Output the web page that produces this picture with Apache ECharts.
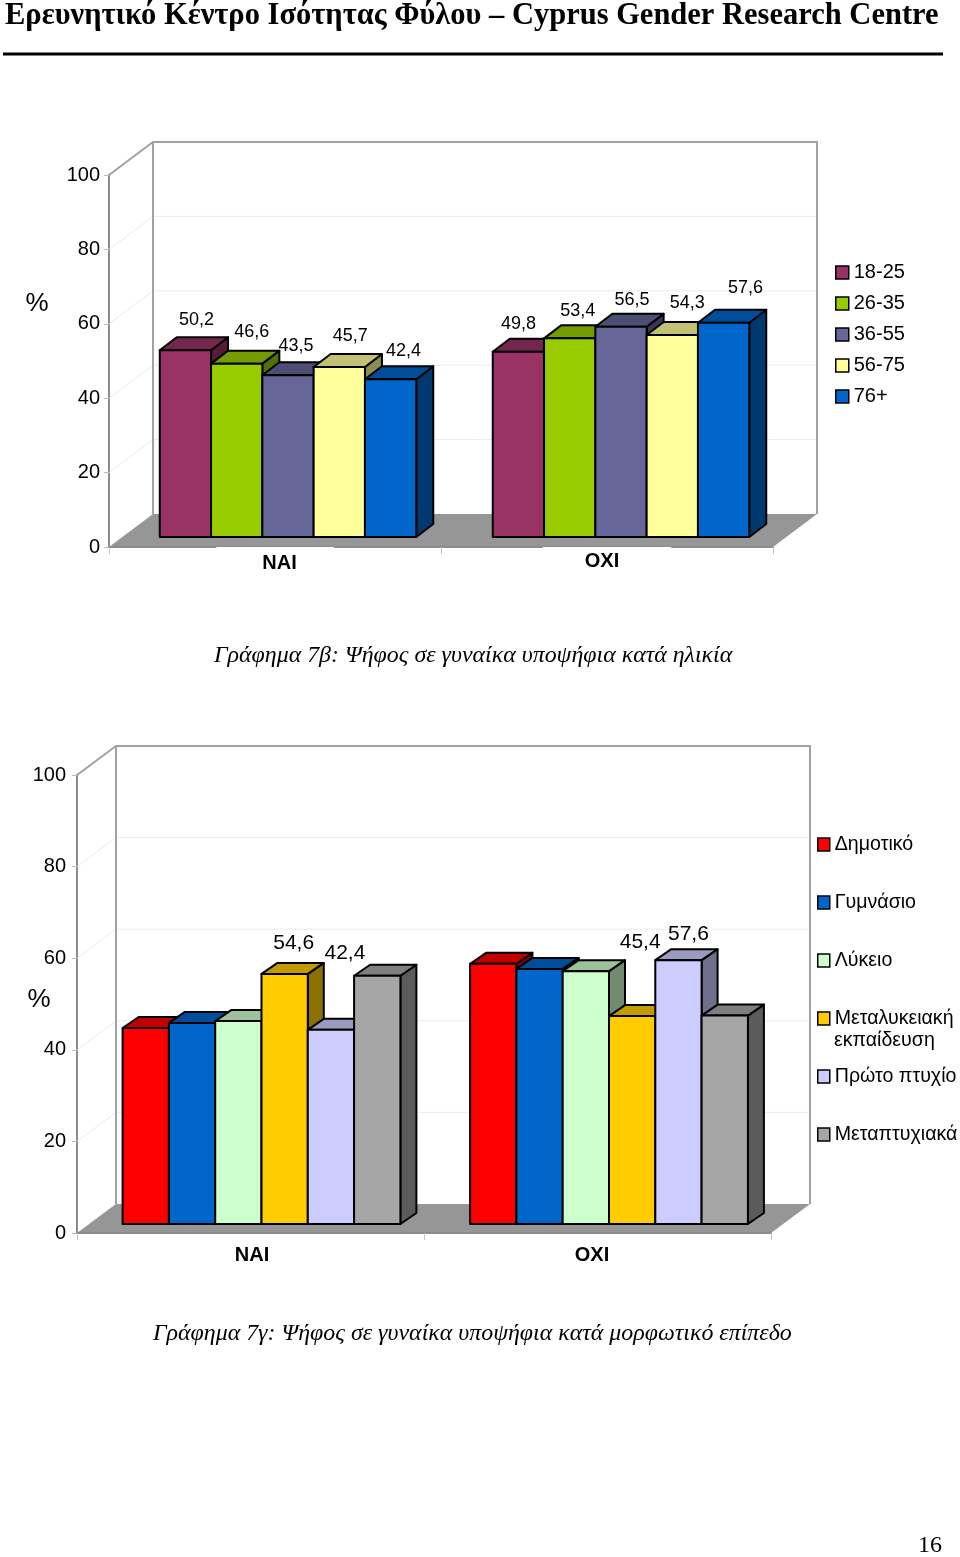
<!DOCTYPE html>
<html><head><meta charset="utf-8">
<style>html,body{margin:0;padding:0;background:#fff}#c{width:960px;height:1557px}</style>
<script src="https://cdn.jsdelivr.net/npm/echarts@6/dist/echarts.min.js"></script>
</head><body><div id="c"></div>
<script>
const pageTitle = 'Ερευνητικό Κέντρο Ισότητας Φύλου – Cyprus Gender Research Centre';
const caption1 = 'Γράφημα 7β: Ψήφος σε γυναίκα υποψήφια κατά ηλικία';
const caption2 = 'Γράφημα 7γ: Ψήφος σε γυναίκα υποψήφια κατά μορφωτικό επίπεδο';
const pageNumber = '16';
const answers = ['ΝΑΙ', 'ΟΧΙ'];
const yTicks = [0, 20, 40, 60, 80, 100];

const ageGroups = ['18-25', '26-35', '36-55', '56-75', '76+'];
const ageColors = ['#993366', '#99CC00', '#666699', '#FFFF99', '#0066CC'];
const ageYes = [50.2, 46.6, 43.5, 45.7, 42.4];
const ageNo = [49.8, 53.4, 56.5, 54.3, 57.6];

const eduGroups = ['Δημοτικό', 'Γυμνάσιο', 'Λύκειο', 'Μεταλυκειακή εκπαίδευση', 'Πρώτο πτυχίο', 'Μεταπτυχιακά'];
const eduColors = ['#FF0000', '#0066CC', '#CCFFCC', '#FFCC00', '#CCCCFF', '#A6A6A6'];
const eduYes = [42.8, 43.9, 44.3, 54.6, 42.4, 54.2];
const eduNo = [56.8, 55.7, 55.2, 45.4, 57.6, 45.5];

// label placement relative to the top-front centre of each bar (style only)
const ageLabelNudge = [
  [[11, -30.5], [0, -27.5]], [[15, -31.5], [8, -27.5]], [[8, -29.5], [11, -26.5]], [[11, -30.5], [15, -31.5]], [[13, -28.5], [22, -34.5]]
];
const eduLabelNudge = [
  [null, null], [null, null], [null, null], [[9, -31], [8, -74]], [[14, -77], [10, -26]], [null, null]
];

const SANS = '"Liberation Sans", Arial, sans-serif';
const SERIF = '"Liberation Serif", "Times New Roman", serif';
const WALL = '#a2a2a2', FLOOR = '#969696', GRID = '#ececec';

function shade(hex, k) {
  const n = parseInt(hex.slice(1), 16);
  const c = [(n >> 16) & 255, (n >> 8) & 255, n & 255].map(v => Math.round(v * k));
  return 'rgb(' + c.join(',') + ')';
}

function wallSeries(axisIndex, box) {
  return {
    type: 'custom', coordinateSystem: 'cartesian2d', xAxisIndex: axisIndex, yAxisIndex: axisIndex,
    silent: true, z: 1, data: [[0, 0]], encode: { x: 0, y: 1 },
    renderItem(params, api) {
      const cs = params.coordSys, x0 = cs.x, x1 = cs.x + cs.width;
      const y0 = api.coord([0, 0])[1], yTop = api.coord([0, 100])[1];
      const dx = box.wallDx, dy = box.wallDy;
      const kids = [];
      kids.push({ type: 'polygon', shape: { points: [[x0, y0], [x1, y0], [x1 + dx, y0 + dy], [x0 + dx, y0 + dy]] }, style: { fill: FLOOR } });
      yTicks.filter(v => v > 0 && v < 100).forEach(v => {
        const y = api.coord([0, v])[1];
        kids.push({ type: 'polyline', shape: { points: [[x0, y], [x0 + dx, y + dy], [x1 + dx, y + dy]] }, style: { fill: 'none', stroke: GRID, lineWidth: 1 } });
      });
      kids.push({ type: 'polyline', shape: { points: [[x0, yTop], [x0 + dx, yTop + dy], [x1 + dx, yTop + dy], [x1 + dx, y0 + dy]] }, style: { fill: 'none', stroke: WALL, lineWidth: 2 } });
      kids.push({ type: 'line', shape: { x1: x0 + dx, y1: yTop + dy, x2: x0 + dx, y2: y0 + dy }, style: { stroke: WALL, lineWidth: 2 } });
      return { type: 'group', children: kids };
    }
  };
}

function barSeries(name, color, yes, no, g, n, axisIndex, box, nudges) {
  return {
    type: 'custom', name, coordinateSystem: 'cartesian2d', xAxisIndex: axisIndex, yAxisIndex: axisIndex,
    silent: true, z: 3 + g, itemStyle: { color }, encode: { x: 0, y: 1 },
    data: [[0, yes], [1, no]],
    renderItem(params, api) {
      const cat = api.value(0), val = api.value(1);
      const top = api.coord([cat, val]), base = api.coord([cat, 0]);
      const l = top[0] + box.ox[cat] + (g - n / 2) * box.bw, r = l + box.bw;
      const b = base[1] + box.oy, t = top[1] + box.oy;
      const dx = box.dx, dy = box.dy;
      const edge = { stroke: '#000', lineWidth: box.line, lineJoin: 'round' };
      const kids = [
        { type: 'polygon', shape: { points: [[r, b], [r + dx, b + dy], [r + dx, t + dy], [r, t]] }, style: Object.assign({ fill: shade(color, 0.55) }, edge) },
        { type: 'polygon', shape: { points: [[l, t], [l + dx, t + dy], [r + dx, t + dy], [r, t]] }, style: Object.assign({ fill: shade(color, 0.76) }, edge) },
        { type: 'rect', shape: { x: l, y: t, width: box.bw, height: b - t }, style: Object.assign({ fill: color }, edge) }
      ];
      const nud = nudges[g][cat];
      if (nud) {
        kids.push({
          type: 'text', z2: 100,
          style: { text: String(val).replace('.', ','), x: (l + r) / 2 + nud[0], y: t + nud[1], align: 'center', verticalAlign: 'middle',
            fill: '#000', font: box.labelSize + 'px ' + SANS }
        });
      }
      return { type: 'group', children: kids };
    }
  };
}

const box1 = { ox: [13, 14], oy: -10, bw: 51.3, dx: 17, dy: -13, wallDx: 44, wallDy: -33, line: 2, labelSize: 18 };
const box2 = { ox: [11, 11.5], oy: -9, bw: 46.3, dx: 16, dy: -11, wallDx: 39, wallDy: -29, line: 2, labelSize: 21 };

function yAxis(gridIndex, margin) {
  return {
    type: 'value', gridIndex, min: 0, max: 100, interval: 20,
    axisLine: { show: true, lineStyle: { color: '#8c8c8c', width: 2 } },
    axisTick: { show: true, length: 5, lineStyle: { color: '#bbb', width: 1 } },
    axisLabel: { color: '#000', fontFamily: SANS, fontSize: 20, margin },
    splitLine: { show: false }
  };
}
function xAxis(gridIndex, data) {
  return {
    type: 'category', gridIndex, data, z: 30,
    axisLine: { show: true, lineStyle: { color: '#8c8c8c', width: 2 } },
    axisTick: { show: true, length: 7, lineStyle: { color: '#c4c4c4', width: 1 } },
    axisLabel: { color: '#000', fontFamily: SANS, fontWeight: 'bold', fontSize: 20, margin: 0, interval: 0 },
    splitLine: { show: false }
  };
}

const series = [wallSeries(0, box1), wallSeries(1, box2)];
ageGroups.forEach((nm, i) => series.push(barSeries(nm, ageColors[i], ageYes[i], ageNo[i], i, ageGroups.length, 0, box1, ageLabelNudge)));
eduGroups.forEach((nm, i) => series.push(barSeries(nm, eduColors[i], eduYes[i], eduNo[i], i, eduGroups.length, 1, box2, eduLabelNudge)));

const chart = echarts.init(document.getElementById('c'), null, { renderer: 'canvas' });
chart.setOption({
  animation: false,
  backgroundColor: '#fff',
  title: [
    { text: pageTitle, left: 5, top: 1, padding: 0, textStyle: { fontFamily: SERIF, fontWeight: 'bold', fontSize: 30.5, color: '#000' } },
    { text: caption1, left: 214, top: 644, padding: 0, textStyle: { fontFamily: SERIF, fontStyle: 'italic', fontWeight: 'normal', fontSize: 23.9, color: '#000' } },
    { text: caption2, left: 153, top: 1322, padding: 0, textStyle: { fontFamily: SERIF, fontStyle: 'italic', fontWeight: 'normal', fontSize: 23.9, color: '#000' } }
  ],
  grid: [
    { left: 109, width: 664, top: 175, height: 372, containLabel: false },
    { left: 77, width: 694, top: 775, height: 458, containLabel: false }
  ],
  xAxis: [
    xAxis(0, [
      { value: answers[0], textStyle: { padding: [6, 37, 4, 46], backgroundColor: '#fff' } },
      { value: answers[1], textStyle: { padding: [4, 52, 6, 42], backgroundColor: '#fff' } }
    ]),
    xAxis(1, [
      { value: answers[0], textStyle: { padding: [12, 0, 0, 3] } },
      { value: answers[1], textStyle: { padding: [12, 11, 0, 0] } }
    ])
  ],
  yAxis: [yAxis(0, 9), yAxis(1, 11)],
  legend: [
    { data: ageGroups, orient: 'vertical', left: 835, top: 261, padding: 0, itemWidth: 13, itemHeight: 13, itemGap: 8, selectedMode: false, icon: 'rect',
      itemStyle: { borderColor: '#000', borderWidth: 1.5 }, textStyle: { color: '#000', fontFamily: SANS, fontSize: 20, lineHeight: 23 } },
    { data: eduGroups, orient: 'vertical', left: 817, top: 833, padding: 0, itemWidth: 12, itemHeight: 13, itemGap: 35, selectedMode: false, icon: 'rect',
      itemStyle: { borderColor: '#000', borderWidth: 1.5 }, textStyle: { color: '#000', fontFamily: SANS, fontSize: 19.6, lineHeight: 23 },
      formatter: nm => nm === eduGroups[3] ? nm.split(' ')[0] : nm }
  ],
  graphic: [
    { type: 'line', shape: { x1: 3, y1: 54, x2: 943, y2: 54 }, style: { stroke: '#000', lineWidth: 3 } },
    { type: 'text', x: 37, y: 304, style: { text: '%', font: '26px ' + SANS, fill: '#000', align: 'center', verticalAlign: 'middle' } },
    { type: 'text', x: 39, y: 1000, style: { text: '%', font: '26px ' + SANS, fill: '#000', align: 'center', verticalAlign: 'middle' } },
    { type: 'text', x: 834, y: 1041, style: { text: eduGroups[3].split(' ')[1], font: '19.6px ' + SANS, fill: '#000', verticalAlign: 'middle' } },
    { type: 'text', x: 930, y: 1546, style: { text: pageNumber, font: '24px ' + SERIF, fill: '#000', align: 'center', verticalAlign: 'middle' } }
  ],
  series
});
</script></body></html>
